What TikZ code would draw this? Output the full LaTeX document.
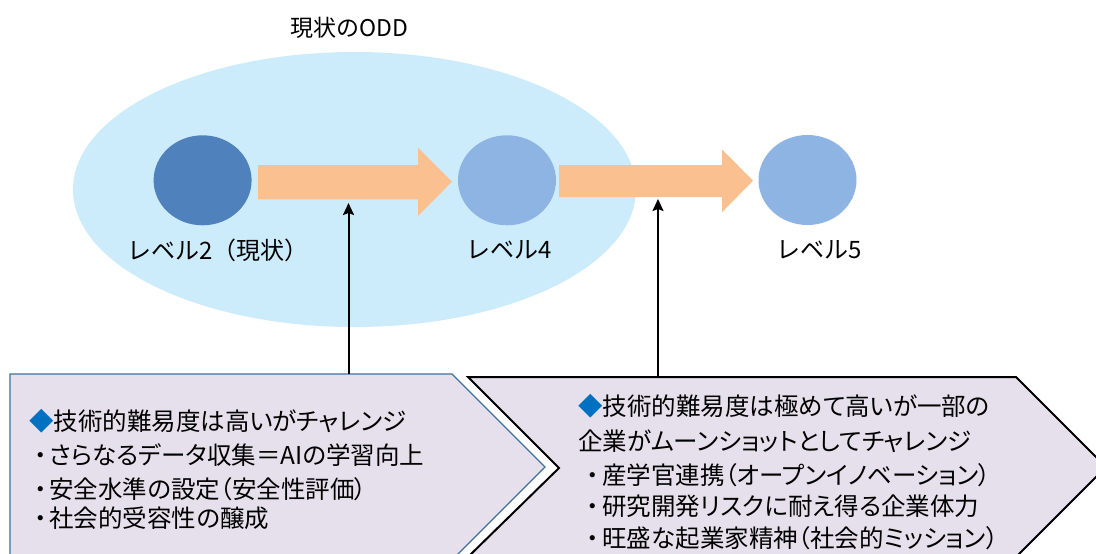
\documentclass[tikz,border=0pt]{standalone}
\usepackage{fontspec}
\setmainfont{Noto Sans CJK JP}
\newfontfamily\propjp[RawFeature=+palt]{Noto Sans CJK JP}
\usetikzlibrary{arrows.meta,shapes.geometric}
\definecolor{oddfill}{HTML}{CCECFC}
\definecolor{darkcirc}{HTML}{4F81BD}
\definecolor{lightcirc}{HTML}{8EB4E3}
\definecolor{blockarrow}{HTML}{FAC090}
\definecolor{boxfill}{HTML}{E6E0EC}
\definecolor{boxline}{HTML}{41719C}
\definecolor{diamondblue}{HTML}{0070C0}
\tikzset{
  levelcirc/.style={ellipse, minimum width=98pt, minimum height=90pt, inner sep=0pt, draw=none},
  levellabel/.style={font=\fontsize{24}{28}\selectfont, inner sep=0pt},
  boxtext/.style={font=\propjp\fontsize{24.5}{28}\selectfont, anchor=west, inner sep=0pt},
  pointer/.style={line width=2pt, -{Stealth[length=12pt,width=11pt,inset=2pt]}},
  blockarr/.style={fill=blockarrow, draw=none}
}
\newcommand{\bluediamond}{{\color{diamondblue}◆}}
\newcommand{\jdotA}{\hspace{5pt}・\hspace{3pt}}
\newcommand{\jdotB}{\hspace{8pt}・\hspace{4pt}}
\begin{document}
\begin{tikzpicture}[x=1pt,y=-1pt]
\useasboundingbox (0,0) rectangle (1096,554);
\fill[white] (0,0) rectangle (1096,554);

% title and ODD ellipse
\node[font=\fontsize{23}{27}\selectfont, inner sep=0pt] (title) at (349,28) {現状のODD};
\node[ellipse, fill=oddfill, minimum width=563pt, minimum height=275pt, inner sep=0pt] (odd) at (354.5,189.5) {};

% level circles
\node[levelcirc, fill=darkcirc] (c2) at (202.6,180.3) {};
\node[levelcirc, fill=lightcirc] (c4) at (507,180.3) {};
\node[levelcirc, fill=lightcirc] (c5) at (807.5,180) {};

% block arrows
\fill[blockarr] (258,165) -- (418,165) -- (418,147.7) -- (452,181.7) -- (418,216) -- (418,199.3) -- (258,199.3) -- cycle;
\fill[blockarr] (559,165) -- (722,165) -- (722,149.3) -- (753,180.7) -- (722,212.3) -- (722,197) -- (559,197) -- cycle;

% level labels
\node[levellabel] (l2) at (218,250) {レベル2（現状）};
\node[levellabel] (l4) at (509,250) {レベル4};
\node[levellabel] (l5) at (819,250) {レベル5};

% boxes
\draw[fill=boxfill, draw=boxline, line width=1.1pt]
  (10,374) -- (452,374) -- (545,467) -- (452,560) -- (10,560) -- cycle;
\draw[fill=boxfill, draw=black, line width=2pt]
  (468,377) -- (1016,377) -- (1106,467) -- (1016,557) -- (468,557) -- (559,468) -- cycle;

\coordinate (b1top) at (348.5,374);
\coordinate (b2top) at (658,377);
\coordinate (a1bot) at (348.5,203);
\coordinate (a2bot) at (658,199);
\draw[pointer] (b1top) -- (a1bot);
\draw[pointer] (b2top) -- (a2bot);

% box 1 text
\node[boxtext] (t11) at (29,421.5) {\bluediamond 技術的難易度は高いがチャレンジ};
\node[boxtext] (t12) at (29,455.5) {\jdotA さらなるデータ収集＝AIの学習向上};
\node[boxtext] (t13) at (29,489) {\jdotA 安全水準の設定（安全性評価）};
\node[boxtext] (t14) at (29,518) {\jdotA 社会的受容性の醸成};

% box 2 text
\node[boxtext] (t21) at (578,406.5) {\bluediamond 技術的難易度は極めて高いが一部の};
\node[boxtext] (t22) at (578,441.5) {企業がムーンショットとしてチャレンジ};
\node[boxtext] (t23) at (578,475) {\jdotB 産学官連携（オープンイノベーション）};
\node[boxtext] (t24) at (578,506.5) {\jdotB 研究開発リスクに耐え得る企業体力};
\node[boxtext] (t25) at (578,538) {\jdotB 旺盛な起業家精神（社会的ミッション）};
\end{tikzpicture}
\end{document}
